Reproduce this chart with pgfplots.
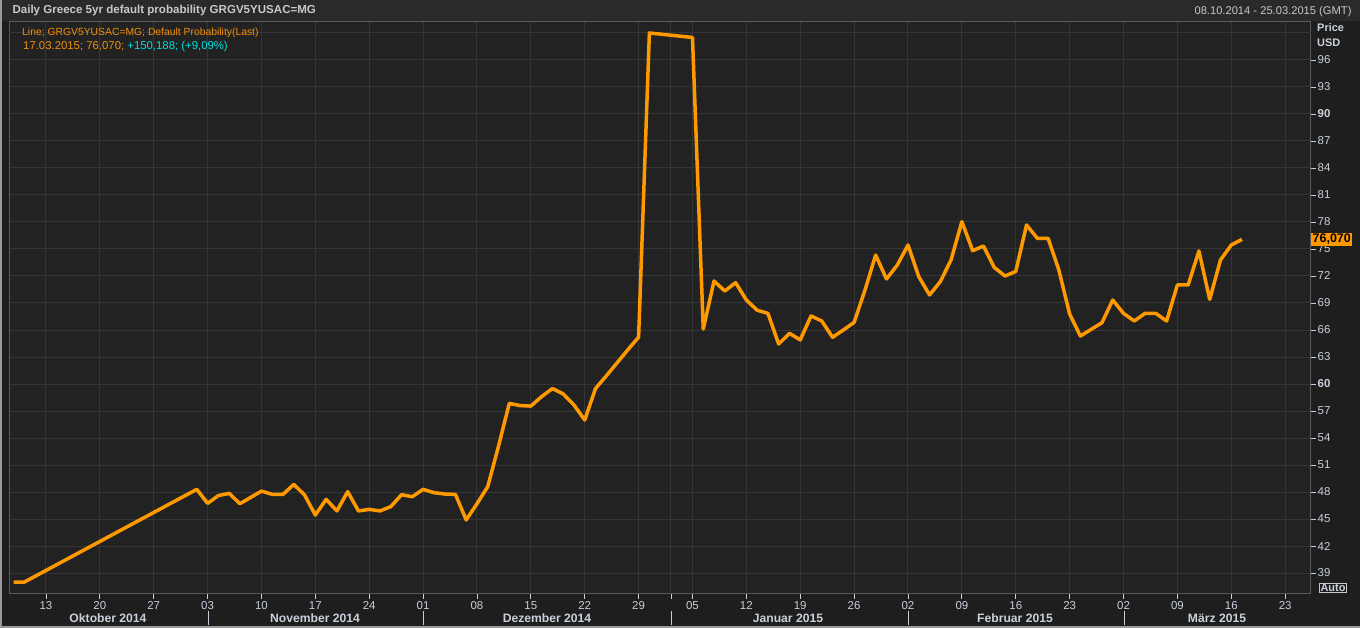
\documentclass[border=0pt]{standalone}
\usepackage{pgfplots}
\usepackage{pgfplotstable}
\pgfplotsset{compat=1.18}
\usepackage{fontspec}
\setmainfont{Liberation Sans}
\definecolor{outerbg}{HTML}{1E1E1E}
\definecolor{plotbg}{HTML}{222222}
\definecolor{headbg}{HTML}{2A2A2A}
\definecolor{gridc}{HTML}{353535}
\definecolor{axisc}{HTML}{5A5A5A}
\definecolor{lbl}{HTML}{C8D0DC}
\definecolor{ttl}{HTML}{C8C8C8}
\definecolor{lineor}{HTML}{FF9900}
\definecolor{legor}{HTML}{F0900A}
\definecolor{legcy}{HTML}{00E0E0}
\definecolor{border}{HTML}{9A9A9A}

% x = trading-day index (0 = Mon 13.10.2014)
\pgfplotstableread{
x y
-3 38.0
-2 38.0
14 48.3
15 46.74
16 47.6
17 47.85
18 46.7
19 47.4
20 48.1
21 47.74
22 47.74
23 48.85
24 47.67
25 45.44
26 47.19
27 45.9
28 48.04
29 45.9
30 46.07
31 45.9
32 46.37
33 47.7
34 47.48
35 48.3
36 47.93
37 47.78
38 47.74
39 44.9
40 46.7
41 48.6
42 53.1
43 57.85
44 57.6
45 57.55
46 58.6
47 59.5
48 58.9
49 57.67
50 56.0
51 59.5
52 60.9
53 62.35
54 63.8
55 65.2
56 99.0
60 98.5
61 66.1
62 71.44
63 70.33
64 71.26
65 69.33
66 68.2
67 67.85
68 64.44
69 65.63
70 64.9
71 67.56
72 67.0
73 65.19
74 66.0
75 66.85
76 70.4
77 74.33
78 71.67
79 73.2
80 75.44
81 71.93
82 69.9
83 71.37
84 73.8
85 78.04
86 74.81
87 75.33
88 72.96
89 72.0
90 72.5
91 77.67
92 76.19
93 76.19
94 72.67
95 67.78
96 65.33
97 66.07
98 66.81
99 69.33
100 67.85
101 67.0
102 67.85
103 67.85
104 67.0
105 71.0
106 71.0
107 74.78
108 69.4
109 73.78
110 75.44
111 76.07
}\greece

\begin{document}
\begin{tikzpicture}[font=\fontsize{11}{13}\selectfont]
\fill[outerbg] (0,0) rectangle (1360bp,628bp);
\path[use as bounding box] (0,0) rectangle (1360bp,628bp);
\fill[headbg] (0,607bp) rectangle (1360bp,628bp);
\begin{axis}[
  at={(9bp,34bp)}, anchor=south west,
  width=1302bp, height=572bp, scale only axis,
  xmin=-3.43, xmax=117.4, ymin=36.67, ymax=100.22,
  axis background/.style={fill=plotbg},
  axis line style={draw=axisc, line width=1bp},
  xtick={0,5,...,115},
  xticklabels={13,20,27,03,10,17,24,01,08,15,22,29,05,12,19,26,02,09,16,23,02,09,16,23},
  extra x ticks={58}, extra x tick labels={},
  extra x tick style={grid=major},
  ytick={39,42,...,96},
  yticklabels={39,42,45,48,51,54,57,\textbf{60},63,66,69,72,75,78,81,84,87,\textbf{90},93,96},
  extra y ticks={99}, extra y tick labels={},
  extra y tick style={grid=major, major tick length=0pt},
  xtick pos=bottom, ytick pos=right, yticklabel pos=right,
  tick align=outside, major tick length=5bp,
  tick style={draw=lbl, line width=0.8bp},
  grid=major, major grid style={draw=gridc, line width=1bp},
  ticklabel style={font=\fontsize{11.5}{13}\selectfont, text=lbl},
  xticklabel style={anchor=north, inner sep=0pt, yshift=-2.5bp},
  yticklabel style={anchor=west, inner sep=0pt, xshift=1.5bp},
]
\addplot[lineor, line width=3.5bp, line join=round] table[x=x,y=y]{\greece};
\end{axis}
% header
\node[anchor=west, text=ttl, font=\fontsize{11.6}{13}\selectfont\bfseries] at (9bp,617bp) {Daily Greece 5yr default probability GRGV5YUSAC=MG};
\node[anchor=east, text=ttl, font=\fontsize{11.2}{13}\selectfont] at (1355bp,616bp) {08.10.2014 - 25.03.2015 (GMT)};
% legend
\node[anchor=west, text=legor, inner sep=0pt, font=\fontsize{10.4}{13}\selectfont] at (22bp,595bp) {Line; GRGV5YUSAC=MG; Default Probability(Last)};
\node[anchor=west, inner sep=0pt, font=\fontsize{11.4}{13}\selectfont] at (23bp,581bp) {\textcolor{legor}{17.03.2015; 76,070;} \textcolor{legcy}{+150,188; (+9,09\%)}};
% right axis title
\node[anchor=west, text=lbl, font=\fontsize{11}{13}\selectfont\bfseries, inner sep=0pt] at (1317bp,600bp) {Price};
\node[anchor=west, text=lbl, font=\fontsize{11}{13}\selectfont\bfseries, inner sep=0pt] at (1317bp,585bp) {USD};
% last value
\node[anchor=west, fill=lineor, text=black, font=\fontsize{12.5}{13}\selectfont\bfseries, inner xsep=1.5bp, inner ysep=1.5bp] at (1311bp,388.6bp) {76,070};
% auto
\node[draw=ttl, line width=0.8bp, text=lbl, font=\fontsize{11}{13}\selectfont\bfseries, inner xsep=1bp, inner ysep=1bp] at (1333bp,40bp) {Auto};
% month labels
\foreach \xx/\mm in {108/Oktober 2014, 315/November 2014, 547/Dezember 2014, 788/Januar 2015, 1015/Februar 2015, 1217/März 2015}
  \node[text=lbl, font=\fontsize{12.2}{13}\selectfont\bfseries] at (\xx bp,10bp) {\mm};
\foreach \xx in {208,423,671,908,1124}
  \draw[lbl, line width=1bp] (\xx bp,3bp) -- (\xx bp,17bp);
% borders
\draw[border, line width=2bp] (1bp,0) -- (1bp,628bp);
\draw[border, line width=2bp] (0,1bp) -- (1360bp,1bp);
\end{tikzpicture}
\end{document}
